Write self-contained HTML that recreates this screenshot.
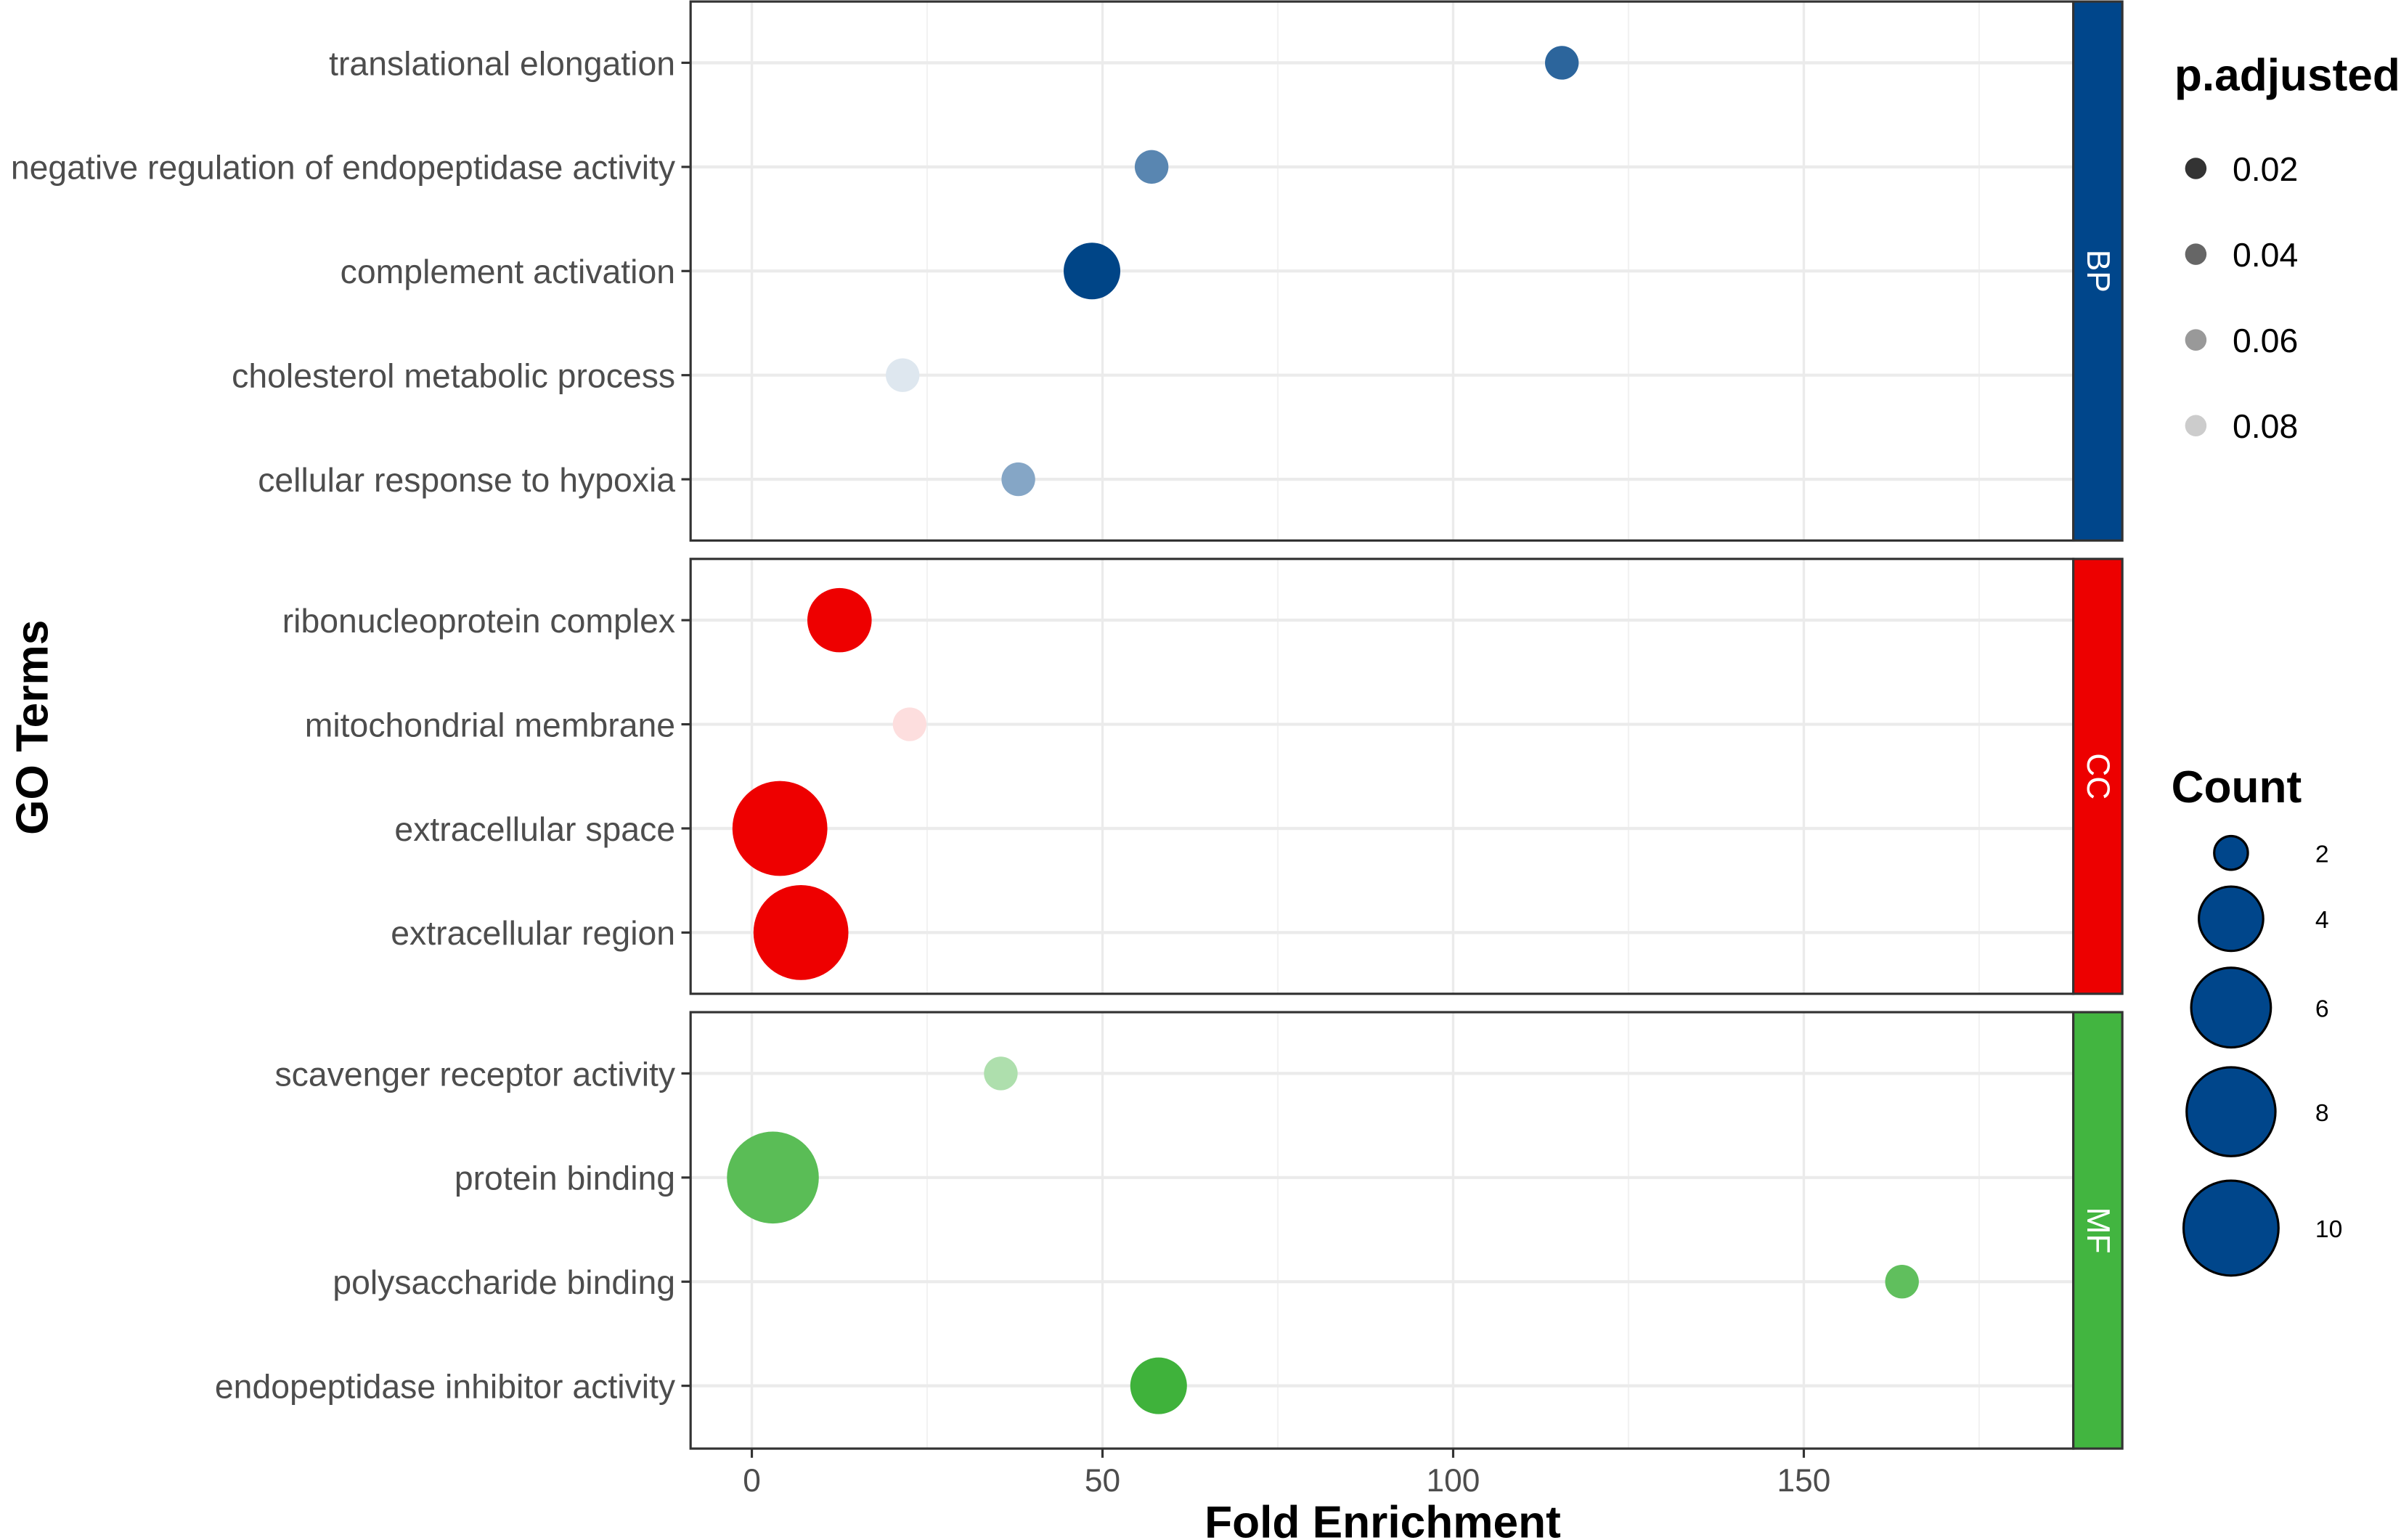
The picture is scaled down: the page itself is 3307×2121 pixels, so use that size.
<!DOCTYPE html>
<html><head><meta charset="utf-8"><style>
html,body{margin:0;padding:0;background:#fff;}
svg{display:block;font-family:"Liberation Sans",Arial,sans-serif;}
</style></head><body>
<svg id="chart" width="3307" height="2121" viewBox="0 0 1568 1005.7" preserveAspectRatio="none" xmlns="http://www.w3.org/2000/svg"></svg>
<script>
// ---- data ----
const panels = ["BP","CC","MF"];
const bpTerms = ["translational elongation","negative regulation of endopeptidase activity","complement activation","cholesterol metabolic process","cellular response to hypoxia"];
const bpFold = [115.5,57,48.5,21.5,38];
const bpCount = [2,2,3.5,2,2];
const bpPadj = [0.025,0.04,0.01,0.085,0.055];
const ccTerms = ["ribonucleoprotein complex","mitochondrial membrane","extracellular space","extracellular region"];
const ccFold = [12.5,22.5,4,7];
const ccCount = [4,2,10,10];
const ccPadj = [0.01,0.085,0.01,0.01];
const mfTerms = ["scavenger receptor activity","protein binding","polysaccharide binding","endopeptidase inhibitor activity"];
const mfFold = [35.5,3,164,58];
const mfCount = [2,9,2,3.5];
const mfPadj = [0.06,0.022,0.025,0.01];
const xTicks = [0,50,100,150];
const padjLegend = [0.02,0.04,0.06,0.08];
const countLegend = [2,4,6,8,10];

// ---- layout ----
const NS="http://www.w3.org/2000/svg";
const svg=document.getElementById('chart');
function el(tag,attrs,parent){const e=document.createElementNS(NS,tag);for(const k in attrs)e.setAttribute(k,attrs[k]);(parent||svg).appendChild(e);return e;}
const L=451,R=1354,SR=1386;
const x=v=>491+(v-0)*(949-491)/100;
const sizeR=[11,21,26,29,31];
function rad(c){
  for(let i=0;i<countLegend.length-1;i++){
    if(c<=countLegend[i+1]){const t=(c-countLegend[i])/(countLegend[i+1]-countLegend[i]);return sizeR[i]+t*(sizeR[i+1]-sizeR[i]);}
  }return sizeR[sizeR.length-1];
}
function mix(base,p){
  const t=Math.max(0,Math.min(1,(p-0.01)/0.075))*0.87;
  const r=Math.round(base[0]+(255-base[0])*t),g=Math.round(base[1]+(255-base[1])*t),b=Math.round(base[2]+(255-base[2])*t);
  return `rgb(${r},${g},${b})`;
}
const panelDefs=[
 {name:"BP",top:1,bot:353,terms:bpTerms,fold:bpFold,count:bpCount,padj:bpPadj,base:[0,69,135],strip:"#00468b",y0:41},
 {name:"CC",top:365,bot:649,terms:ccTerms,fold:ccFold,count:ccCount,padj:ccPadj,base:[238,0,0],strip:"#ed0000",y0:405},
 {name:"MF",top:661,bot:946,terms:mfTerms,fold:mfFold,count:mfCount,padj:mfPadj,base:[63,178,59],strip:"#42b540",y0:701}
];
const minorX=[-25,25,75,125,175];
panelDefs.forEach(pd=>{
  const g=el('g',{});
  
  
  el('rect',{x:L,y:pd.top,width:R-L,height:pd.bot-pd.top,fill:'#fff'},g);
  minorX.forEach(v=>{const xx=x(v);if(xx>L&&xx<R)el('line',{x1:xx,x2:xx,y1:pd.top,y2:pd.bot,stroke:'#f2f2f2','stroke-width':1},g);});
  xTicks.forEach(v=>{el('line',{x1:x(v),x2:x(v),y1:pd.top,y2:pd.bot,stroke:'#ebebeb','stroke-width':1.6},g);});
  pd.terms.forEach((t,i)=>{
    const y=pd.y0+i*68;
    el('line',{x1:L,x2:R,y1:y,y2:y,stroke:'#ebebeb','stroke-width':2},g);
    el('line',{x1:L-6,x2:L,y1:y,y2:y,stroke:'#333','stroke-width':1.5},g);
    const tx=el('text',{x:L-10,y:y+8,'text-anchor':'end','font-size':22,fill:'#4d4d4d'},g);
    tx.textContent=t;
    
    
  });
  pd.terms.forEach((t,i)=>{
    const y=pd.y0+i*68;
    const c=el('circle',{cx:x(pd.fold[i]),cy:y,r:rad(pd.count[i]),fill:mix(pd.base,pd.padj[i])},g);
    
    
  });
  el('rect',{x:L,y:pd.top,width:R-L,height:pd.bot-pd.top,fill:'none',stroke:'#333','stroke-width':1.5},g);
  const s=el('rect',{x:R,y:pd.top,width:SR-R,height:pd.bot-pd.top,fill:pd.strip,stroke:'#333','stroke-width':1.5},g);
  
  
  const cy=(pd.top+pd.bot)/2;
  const st=el('text',{x:SR-16,y:cy,'text-anchor':'middle','font-size':21,fill:'#fff',transform:`rotate(90 ${SR-16} ${cy})`,'dominant-baseline':'central'},g);
  st.textContent=pd.name;
  
  
});
xTicks.forEach(v=>{
  el('line',{x1:x(v),x2:x(v),y1:946,y2:952,stroke:'#333','stroke-width':1.5});
  const t=el('text',{x:x(v),y:974,'text-anchor':'middle','font-size':21,fill:'#4d4d4d'});
  t.textContent=v;
  
  
});
</script>
<script>
(function(){
const svg=document.getElementById('chart');
const NS="http://www.w3.org/2000/svg";
function el(tag,attrs){const e=document.createElementNS(NS,tag);for(const k in attrs)e.setAttribute(k,attrs[k]);svg.appendChild(e);return e;}
let t=el('text',{x:903,y:1004,'text-anchor':'middle','font-size':29.5,'font-weight':'bold',fill:'#000'});
t.textContent='Fold Enrichment';


t=el('text',{x:31,y:475,'text-anchor':'middle','font-size':29.5,'font-weight':'bold',fill:'#000',transform:'rotate(-90 31 475)'});
t.textContent='GO Terms';


t=el('text',{x:1420,y:59,'font-size':29.5,'font-weight':'bold',fill:'#000'});
t.textContent='p.adjusted';


const greys=['#333333','#666666','#999999','#cccccc'];
padjLegend.forEach((v,i)=>{
  const y=110+i*56;
  const c=el('circle',{cx:1434,cy:y,r:7,fill:greys[i]});
  
  
  const tx=el('text',{x:1458,y:y+8,'font-size':22,fill:'#000'});
  tx.textContent=v.toFixed(2);
  
  
});
t=el('text',{x:1418,y:524,'font-size':29.5,'font-weight':'bold',fill:'#000'});
t.textContent='Count';


const cys=[557,600,658,726,802];
countLegend.forEach((v,i)=>{
  const c=el('circle',{cx:1457,cy:cys[i],r:sizeR[i],fill:'#00468b',stroke:'#000','stroke-width':1.5});
  
  
  const tx=el('text',{x:1512,y:cys[i]+6,'font-size':16,fill:'#000'});
  tx.textContent=v;
  
  
});
})();
</script>
</body></html>
